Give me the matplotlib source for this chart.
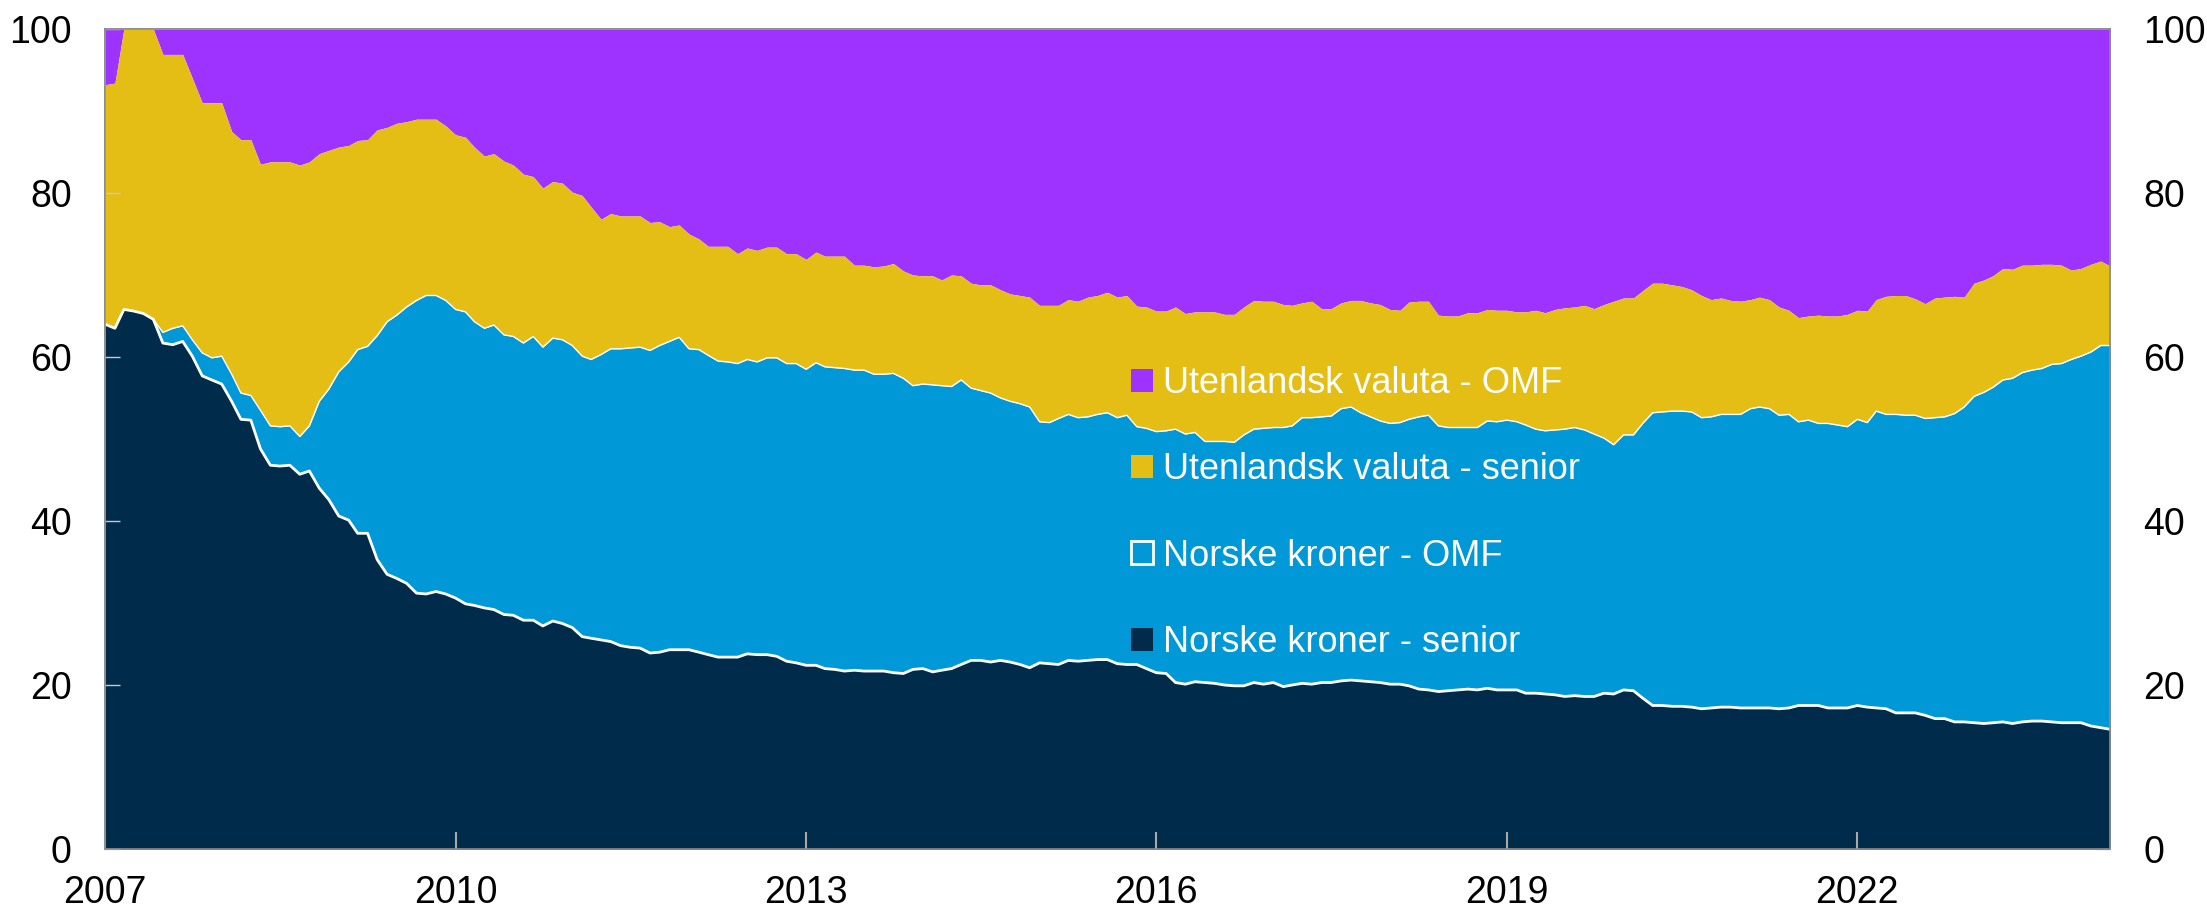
import numpy as np
import pandas as pd
import matplotlib
matplotlib.use('Agg')
import matplotlib.pyplot as plt
from matplotlib.patches import Patch
import matplotlib.dates as mdates

plt.rcParams['font.family'] = ['Liberation Sans', 'DejaVu Sans']

# Månedlige andeler, jan 2007 - mar 2024 (prosent).
# Bunnserien leses direkte; de øvrige er lest av som stablet nivå (toppen av hvert lag)
nok_senior = [
    64.0, 63.5, 65.8, 65.6, 65.3, 64.6, 61.7, 61.5, 61.9, 60.1, 57.7, 57.2, 56.7, 54.6, 52.4,
    52.3, 48.8, 46.8, 46.7, 46.8, 45.7, 46.1, 44.0, 42.6, 40.6, 40.1, 38.5, 38.5, 35.3, 33.5,
    33.0, 32.4, 31.2, 31.1, 31.4, 31.1, 30.6, 29.9, 29.7, 29.4, 29.2, 28.6, 28.5, 27.9, 27.9,
    27.2, 27.8, 27.5, 27.0, 25.9, 25.7, 25.5, 25.3, 24.8, 24.6, 24.5, 23.9, 24.0, 24.3, 24.3,
    24.3, 24.0, 23.7, 23.4, 23.4, 23.4, 23.8, 23.7, 23.7, 23.5, 22.9, 22.7, 22.4, 22.4, 22.0,
    21.9, 21.7, 21.8, 21.7, 21.7, 21.7, 21.5, 21.4, 21.9, 22.0, 21.6, 21.8, 22.0, 22.5, 23.0,
    23.0, 22.8, 23.0, 22.8, 22.5, 22.1, 22.7, 22.6, 22.5, 23.0, 22.9, 23.0, 23.1, 23.1, 22.6,
    22.5, 22.5, 22.0, 21.5, 21.4, 20.3, 20.1, 20.4, 20.3, 20.2, 20.0, 19.9, 19.9, 20.3,
    20.1, 20.3, 19.8, 20.0, 20.2, 20.1, 20.3, 20.3, 20.5, 20.6, 20.5, 20.4, 20.3, 20.1, 20.1,
    19.9, 19.5, 19.4, 19.2, 19.3, 19.4, 19.5, 19.4, 19.6, 19.4, 19.4, 19.4, 19.0, 19.0, 18.9,
    18.8, 18.6, 18.7, 18.6, 18.6, 19.0, 18.9, 19.4, 19.3, 18.4, 17.5, 17.5, 17.4, 17.4, 17.3,
    17.1, 17.2, 17.3, 17.3, 17.2, 17.2, 17.2, 17.2, 17.1, 17.2, 17.5, 17.5, 17.5, 17.2, 17.2,
    17.2, 17.5, 17.3, 17.2, 17.1, 16.6, 16.6, 16.6, 16.3, 15.9, 15.9, 15.5, 15.5, 15.4, 15.3,
    15.4, 15.5, 15.3, 15.5, 15.6, 15.6, 15.5, 15.4, 15.4, 15.4, 15.0, 14.8, 14.6,
]

nok_omf_top = [
    64.0, 63.5, 65.8, 65.6, 65.3, 64.6, 63.0, 63.5, 63.8, 62.1, 60.5, 59.9, 60.1, 57.9, 55.6,
    55.3, 53.5, 51.6, 51.5, 51.6, 50.3, 51.6, 54.6, 56.1, 58.2, 59.4, 60.9, 61.3, 62.6, 64.3,
    65.1, 66.1, 66.9, 67.5, 67.5, 66.9, 65.8, 65.5, 64.3, 63.5, 63.9, 62.7, 62.5, 61.7, 62.5,
    61.2, 62.3, 62.1, 61.4, 60.1, 59.7, 60.3, 61.0, 61.0, 61.1, 61.2, 60.8, 61.4, 61.9, 62.4,
    61.0, 60.9, 60.2, 59.5, 59.4, 59.2, 59.7, 59.4, 59.9, 59.9, 59.2, 59.2, 58.5, 59.3, 58.8,
    58.7, 58.6, 58.4, 58.4, 57.9, 57.9, 58.0, 57.4, 56.5, 56.7, 56.6, 56.5, 56.4, 57.2, 56.2,
    55.9, 55.6, 55.0, 54.6, 54.3, 53.9, 52.1, 52.0, 52.5, 53.0, 52.6, 52.7, 53.0, 53.2, 52.6,
    52.9, 51.5, 51.3, 50.9, 51.0, 51.2, 50.6, 50.8, 49.7, 49.7, 49.7, 49.6, 50.5, 51.2,
    51.3, 51.4, 51.4, 51.6, 52.6, 52.6, 52.7, 52.8, 53.7, 53.9, 53.2, 52.7, 52.2, 51.9, 52.0,
    52.4, 52.7, 52.9, 51.6, 51.4, 51.4, 51.4, 51.4, 52.2, 52.1, 52.3, 52.1, 51.7, 51.2, 51.0,
    51.1, 51.2, 51.4, 51.1, 50.6, 50.1, 49.3, 50.5, 50.5, 51.9, 53.2, 53.3, 53.4, 53.4, 53.3,
    52.6, 52.7, 53.0, 53.0, 53.0, 53.7, 53.9, 53.7, 52.9, 53.0, 52.1, 52.3, 51.9, 51.9, 51.7,
    51.5, 52.4, 52.0, 53.4, 53.0, 53.0, 52.9, 52.9, 52.5, 52.6, 52.7, 53.1, 53.9, 55.2, 55.7,
    56.3, 57.2, 57.4, 58.1, 58.4, 58.6, 59.1, 59.2, 59.7, 60.1, 60.6, 61.4, 61.4,
]

fx_senior_top = [
    93.2, 93.4, 100.0, 100.0, 100.0, 100.0, 96.9, 96.9, 96.9, 94.0, 91.0, 91.0, 91.0, 87.5, 86.5,
    86.5, 83.5, 83.8, 83.8, 83.8, 83.4, 83.8, 84.8, 85.2, 85.6, 85.8, 86.4, 86.5, 87.7, 88.0,
    88.5, 88.7, 89.0, 89.0, 89.0, 88.2, 87.1, 86.8, 85.6, 84.5, 84.8, 83.9, 83.4, 82.3, 82.0,
    80.6, 81.4, 81.2, 80.1, 79.7, 78.3, 76.8, 77.5, 77.2, 77.2, 77.2, 76.4, 76.5, 75.9, 76.1,
    75.0, 74.4, 73.5, 73.5, 73.5, 72.6, 73.3, 73.0, 73.4, 73.4, 72.6, 72.6, 71.9, 72.8, 72.3,
    72.3, 72.3, 71.2, 71.2, 71.0, 71.1, 71.4, 70.5, 70.0, 69.9, 69.9, 69.4, 70.0, 69.9, 69.0,
    68.8, 68.8, 68.2, 67.7, 67.5, 67.3, 66.3, 66.3, 66.3, 67.0, 66.8, 67.3, 67.5, 67.9, 67.3,
    67.5, 66.2, 66.1, 65.6, 65.6, 66.1, 65.3, 65.5, 65.5, 65.5, 65.2, 65.2, 66.1, 66.9,
    66.8, 66.8, 66.4, 66.3, 66.6, 66.8, 65.9, 65.9, 66.6, 66.9, 66.9, 66.6, 66.4, 65.8, 65.7,
    66.7, 66.8, 66.8, 65.1, 65.0, 65.0, 65.4, 65.4, 65.8, 65.7, 65.7, 65.5, 65.5, 65.7, 65.4,
    65.8, 66.0, 66.1, 66.3, 65.9, 66.4, 66.8, 67.2, 67.2, 68.1, 69.0, 69.0, 68.8, 68.6, 68.2,
    67.5, 67.0, 67.2, 66.9, 66.8, 67.0, 67.3, 67.0, 66.1, 65.7, 64.8, 65.0, 65.1, 65.0, 65.0,
    65.2, 65.7, 65.6, 67.0, 67.4, 67.5, 67.5, 67.1, 66.5, 67.2, 67.3, 67.4, 67.3, 69.0, 69.4,
    69.9, 70.8, 70.7, 71.2, 71.2, 71.3, 71.3, 71.2, 70.6, 70.8, 71.3, 71.7, 71.1,
]

labels = ['Utenlandsk valuta - OMF', 'Utenlandsk valuta - senior',
          'Norske kroner - OMF', 'Norske kroner - senior']
colors = {'fx_omf': '#9E32FF', 'fx_senior': '#E4BD15',
          'nok_omf': '#0098D6', 'nok_senior': '#002B4A'}

dates = pd.date_range('2007-01-01', periods=len(nok_senior), freq='MS')
nok_senior = np.array(nok_senior)
nok_omf_top = np.array(nok_omf_top)
fx_senior_top = np.array(fx_senior_top)
total = np.full(len(dates), 100.0)

fig = plt.figure(figsize=(22.07, 9.10), dpi=100)
ax = fig.add_axes([105 / 2207, 1 - 849 / 910, (2110 - 105) / 2207, (849 - 29) / 910])

# stablede lag
ax.fill_between(dates, fx_senior_top, total, color=colors['fx_omf'], lw=0)
ax.fill_between(dates, nok_omf_top, fx_senior_top, color=colors['fx_senior'], lw=0)
ax.fill_between(dates, nok_senior, nok_omf_top, color=colors['nok_omf'], lw=0)
ax.fill_between(dates, 0, nok_senior, color=colors['nok_senior'], lw=0)
ax.plot(dates, nok_omf_top, color='white', lw=1.0)
ax.plot(dates, nok_senior, color='white', lw=2.0)

ax.set_xlim(dates[0], dates[-1])
ax.set_ylim(0, 100)
ax.set_yticks(range(0, 101, 20))
ax.xaxis.set_major_locator(mdates.YearLocator(3, month=1, day=1))
ax.xaxis.set_major_formatter(mdates.DateFormatter('%Y'))

ax2 = ax.twinx()
ax2.set_ylim(0, 100)
ax2.set_yticks(range(0, 101, 20))

for a in (ax, ax2):
    a.tick_params(axis='y', direction='in', length=11, width=1, color='#C8C8C8',
                  labelsize=27, pad=24)
    for s in a.spines.values():
        s.set_color('#8C8C8C')
        s.set_linewidth(1.2)
ax.tick_params(axis='x', direction='in', length=12, width=1.5, color='#A8A8A8',
               labelsize=27, pad=19)
ax.set_zorder(ax2.get_zorder() + 1)

handles = [
    Patch(facecolor=colors['fx_omf'], edgecolor='none'),
    Patch(facecolor=colors['fx_senior'], edgecolor='none'),
    Patch(facecolor=colors['nok_omf'], edgecolor='white', linewidth=2),
    Patch(facecolor=colors['nok_senior'], edgecolor='none'),
]
leg = ax.legend(handles, labels, loc='upper left', bbox_to_anchor=(1131 / 2207, 1 - 366 / 910),
                bbox_transform=fig.transFigure, frameon=False, fontsize=26,
                labelcolor='white', handlelength=0.6, handleheight=0.6,
                handletextpad=0.28, labelspacing=1.42, borderpad=0, borderaxespad=0)

fig.savefig('out.png', dpi=100)
